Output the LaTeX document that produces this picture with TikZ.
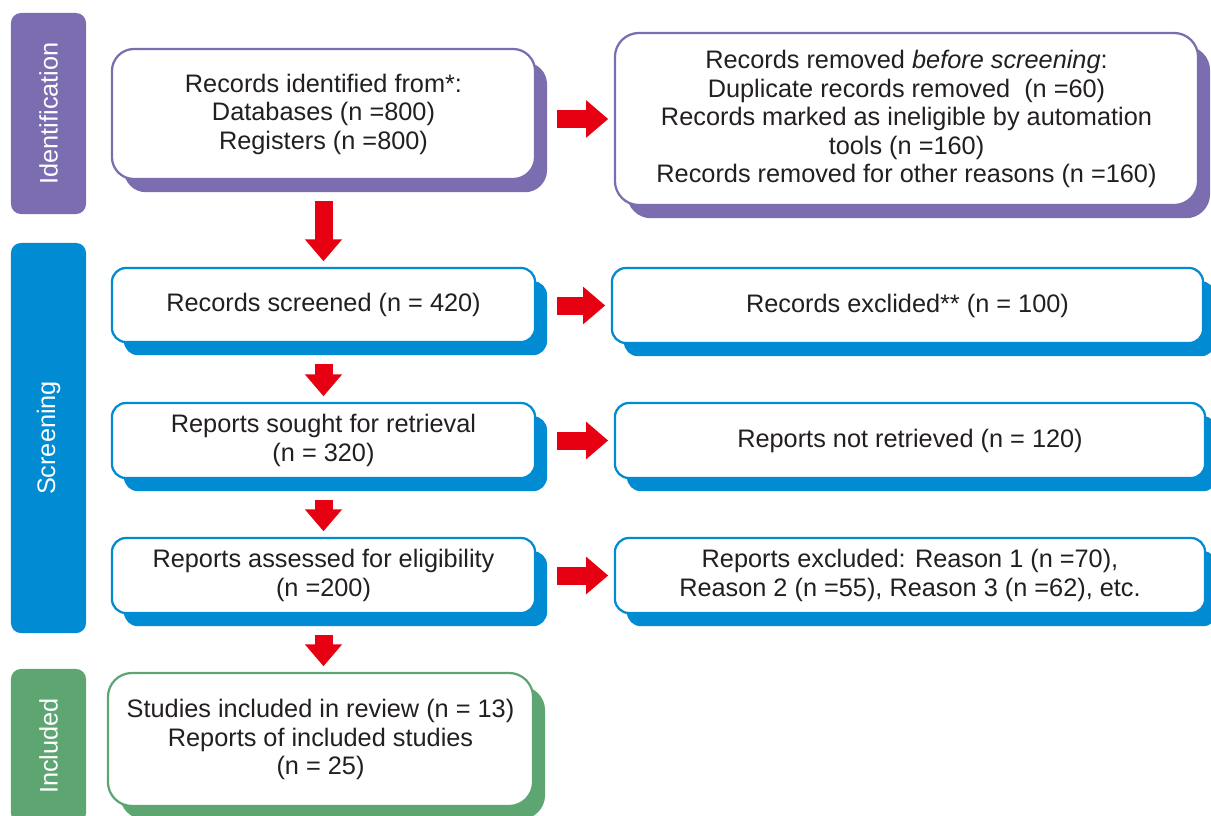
\documentclass[tikz,border=0pt]{standalone}
\usepackage{fontspec}
\setmainfont{Liberation Sans}
\usepackage{xcolor}
\usepackage{tikz}
\usetikzlibrary{arrows.meta,shadows}
\definecolor{PRPurple}{HTML}{7B6DB0}
\definecolor{PRBlue}{HTML}{008BD2}
\definecolor{PRGreen}{HTML}{5DA672}
\definecolor{PRRed}{HTML}{E60012}
\definecolor{PRText}{HTML}{231F20}

\begin{document}
\begin{tikzpicture}[x=0.025cm,y=-0.025cm,
  phasebar/.style={fill=#1,rounded corners=0.25cm,minimum height=1.875cm,text=white,rotate=90,inner sep=0pt,font=\fontsize{18}{20}\selectfont},
  stagebox/.style={draw=#1,line width=1.6pt,fill=white,rounded corners=0.35cm,align=center,text=PRText,inner sep=0pt,font=\fontsize{18}{20.3}\selectfont,drop shadow={shadow xshift=0.3cm,shadow yshift=-0.33cm,fill=#1,opacity=1}},
  flowarrow/.style={PRRed,line width=0.45cm,-{Triangle[length=0.55cm,width=0.9cm]},shorten <=0.52cm,shorten >=0.14cm}]
\path[use as bounding box] (0,0) rectangle (1211,816);
\node[phasebar=PRPurple,minimum width=5.025cm] (idf) at (48.5,113.5) {Identification};
\node[phasebar=PRBlue,minimum width=9.75cm] (scn) at (48.5,438) {Screening};
\node[phasebar=PRGreen,minimum width=3.85cm] (icl) at (48.5,746) {Included};
\node[stagebox=PRPurple,minimum width=10.575cm,minimum height=3.25cm,rounded corners=0.55cm] (rec) at (323.5,114) {Records identified from*:\\Databases (n =800)\\Registers (n =800)};
\node[stagebox=PRPurple,minimum width=14.575cm,minimum height=4.3cm,rounded corners=0.6cm] (rem) at (906.5,119) {Records removed \textit{before screening}:\\Duplicate records removed~ (n =60)\\Records marked as ineligible by automation\\tools (n =160)\\Records removed for other reasons (n =160)};
\node[stagebox=PRBlue,minimum width=10.575cm,minimum height=1.85cm] (scr) at (323.5,305) {Records screened (n = 420)};
\node[stagebox=PRBlue,minimum width=14.775cm,minimum height=1.875cm] (exc) at (907.5,305.5) {Records exclided** (n = 100)};
\node[stagebox=PRBlue,minimum width=10.575cm,minimum height=1.875cm] (sou) at (323.5,440.5) {Reports sought for retrieval\\(n = 320)};
\node[stagebox=PRBlue,minimum width=14.75cm,minimum height=1.875cm] (ret) at (910,440.5) {Reports not retrieved (n = 120)};
\node[stagebox=PRBlue,minimum width=10.575cm,minimum height=1.875cm] (ass) at (323.5,575.5) {Reports assessed for eligibility\\(n =200)};
\node[stagebox=PRBlue,minimum width=14.75cm,minimum height=1.875cm] (exr) at (910,575.5) {Reports excluded: Reason 1 (n =70),\\Reason 2 (n =55), Reason 3 (n =62), etc.};
\node[stagebox=PRGreen,minimum width=10.625cm,minimum height=3.325cm,rounded corners=0.6cm] (inc) at (320.5,739.5) {Studies included in review (n = 13)\\Reports of included studies\\(n = 25)};
\draw[flowarrow] (rec.east |- rem.west) -- (rem.west);
\draw[flowarrow] (scr.east |- exc.west) -- (exc.west);
\draw[flowarrow] (sou.east |- ret.west) -- (ret.west);
\draw[flowarrow] (ass.east |- exr.west) -- (exr.west);
\draw[flowarrow] (rec.south) -- (scr.north);
\draw[flowarrow] (scr.south) -- (sou.north);
\draw[flowarrow] (sou.south) -- (ass.north);
\draw[flowarrow] (ass.south) -- (ass.south |- inc.north);
\end{tikzpicture}
\end{document}
